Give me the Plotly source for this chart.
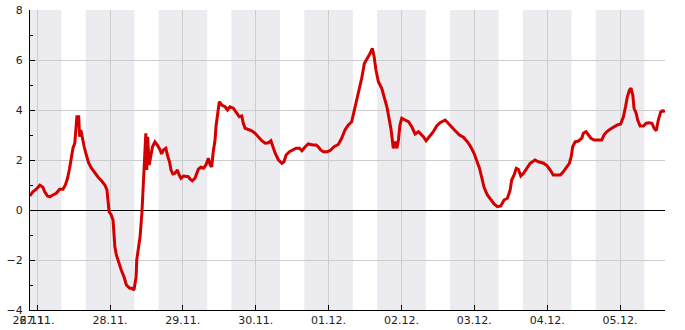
import plotly.graph_objects as go
import pandas as pd

# hours since 27.11. 00:00 and measured values
hours = [
    -2.4, -1.4, -0.3, 0.9, 1.9, 2.5, 3.4, 4.2, 5.2, 6.3,
    7.4, 8.5, 9.3, 10.0, 10.7, 11.3, 11.8, 12.4, 12.7, 13.1,
    13.7, 14.0, 14.4, 14.8, 15.5, 16.2, 17.0, 17.9, 19.0, 20.1,
    21.2, 22.3, 23.0, 23.4, 23.7, 24.4, 25.0, 25.3, 25.6, 26.1,
    26.9, 27.7, 28.6, 29.4, 30.5, 31.2, 31.9, 32.6, 32.8, 33.3,
    33.9, 34.5, 34.8, 35.0, 35.3, 35.8, 36.1, 36.4, 36.9, 37.4,
    38.0, 38.8, 39.6, 40.5, 41.0, 41.6, 42.4, 42.9, 43.6, 44.1,
    44.7, 45.4, 46.2, 46.8, 47.4, 48.2, 49.1, 49.8, 50.4, 51.1,
    52.0, 52.6, 53.1, 53.9, 54.8, 55.6, 56.4, 57.0, 57.5, 58.0,
    58.6, 58.9, 59.4, 60.0, 60.8, 61.9, 62.7, 63.5, 64.6, 65.8,
    66.6, 67.4, 67.9, 68.5, 69.6, 70.7, 71.8, 72.9, 74.0, 75.1,
    76.2, 77.0, 77.6, 78.4, 79.5, 80.6, 81.3, 82.0, 83.1, 84.2,
    85.3, 86.4, 87.2, 88.3, 89.3, 90.8, 91.9, 92.6, 93.4, 94.3,
    95.6, 96.7, 97.8, 99.2, 100.3, 101.4, 102.5, 103.6, 104.4, 105.3,
    106.1, 106.9, 107.8, 108.8, 109.7, 110.4, 111.0, 111.6, 112.4, 113.5,
    114.3, 115.2, 115.9, 116.6, 117.3, 117.9, 118.5, 119.0, 119.5, 120.1,
    121.2, 122.3, 123.4, 124.5, 125.6, 126.4, 127.2, 128.1, 129.1, 130.5,
    131.6, 132.7, 134.4, 135.5, 136.6, 137.7, 139.1, 140.4, 141.7, 142.8,
    143.9, 144.8, 145.7, 146.5, 147.2, 148.3, 149.4, 150.5, 151.6, 152.7,
    153.8, 154.9, 155.8, 156.3, 157.1, 157.8, 158.5, 159.3, 160.2, 161.3,
    162.4, 164.0, 165.1, 166.8, 167.9, 169.0, 170.0, 171.2, 172.3, 173.3,
    174.5, 175.3, 175.9, 176.4, 177.2, 178.3, 179.4, 179.9, 180.8, 181.6,
    182.4, 183.5, 184.9, 186.0, 186.7, 187.6, 188.7, 189.8, 191.1, 192.2,
    193.1, 193.8, 194.4, 195.1, 195.6, 196.2, 196.6, 197.3, 197.8, 198.6,
    199.7, 200.6, 201.5, 202.5, 203.2, 203.9, 204.6, 205.4, 206.1, 206.8,
]
values = [
    0.56, 0.73, 0.83, 0.99, 0.91, 0.73, 0.56, 0.53, 0.60, 0.67,
    0.83, 0.83, 1.00, 1.27, 1.67, 2.13, 2.47, 2.67, 3.07, 3.73,
    3.73, 2.93, 3.20, 2.93, 2.53, 2.20, 1.87, 1.67, 1.47, 1.31,
    1.17, 1.00, 0.80, 0.40, -0.07, -0.20, -0.40, -0.93, -1.47, -1.80,
    -2.13, -2.40, -2.67, -3.00, -3.13, -3.13, -3.20, -2.67, -2.00, -1.60,
    -1.07, -0.13, 0.53, 1.20, 1.87, 3.07, 1.60, 2.93, 1.80, 2.13,
    2.53, 2.73, 2.60, 2.40, 2.24, 2.40, 2.47, 2.20, 1.93, 1.60,
    1.44, 1.47, 1.60, 1.40, 1.27, 1.36, 1.33, 1.33, 1.23, 1.17,
    1.27, 1.44, 1.63, 1.71, 1.67, 1.80, 2.07, 1.80, 1.73, 2.33,
    2.80, 3.33, 3.87, 4.33, 4.20, 4.13, 4.00, 4.13, 4.07, 3.87,
    3.73, 3.76, 3.47, 3.27, 3.23, 3.17, 3.07, 2.91, 2.77, 2.67,
    2.69, 2.77, 2.53, 2.27, 2.00, 1.87, 1.93, 2.20, 2.33, 2.40,
    2.47, 2.47, 2.37, 2.53, 2.64, 2.60, 2.60, 2.53, 2.40, 2.33,
    2.33, 2.40, 2.53, 2.62, 2.87, 3.20, 3.40, 3.53, 3.93, 4.47,
    4.87, 5.27, 5.87, 6.07, 6.27, 6.47, 6.13, 5.60, 5.13, 4.87,
    4.53, 4.13, 3.67, 3.20, 2.47, 2.73, 2.47, 2.80, 3.40, 3.67,
    3.60, 3.53, 3.33, 3.04, 3.13, 3.04, 2.93, 2.77, 2.93, 3.13,
    3.36, 3.49, 3.60, 3.47, 3.33, 3.17, 3.00, 2.91, 2.73, 2.53,
    2.27, 2.00, 1.67, 1.27, 0.91, 0.60, 0.40, 0.24, 0.13, 0.16,
    0.40, 0.47, 0.80, 1.20, 1.40, 1.67, 1.63, 1.36, 1.47, 1.67,
    1.87, 2.00, 1.93, 1.87, 1.78, 1.60, 1.40, 1.40, 1.40, 1.53,
    1.71, 1.87, 2.13, 2.53, 2.73, 2.76, 2.87, 3.07, 3.13, 3.00,
    2.87, 2.80, 2.80, 2.80, 3.00, 3.13, 3.23, 3.31, 3.40, 3.44,
    3.73, 4.13, 4.53, 4.80, 4.87, 4.60, 4.07, 3.87, 3.60, 3.36,
    3.36, 3.47, 3.49, 3.47, 3.27, 3.17, 3.60, 3.93, 3.97, 3.93,
]
first_label = "26.11."
day_labels = ["27.11.", "28.11.", "29.11.", "30.11.", "01.12.",
              "02.12.", "03.12.", "04.12.", "05.12."]
y_ticks = [-4, -2, 0, 2, 4, 6, 8]

base = pd.Timestamp("2023-11-27 00:00")
times = base + pd.to_timedelta(hours, unit="h")
x_start = base + pd.Timedelta(hours=-2.35)
x_end = base + pd.Timedelta(hours=206.8)
day_ticks = pd.date_range("2023-11-27", periods=len(day_labels), freq="D")
tick_vals = [x_start] + list(day_ticks)
tick_text = [first_label] + day_labels

night_starts = pd.date_range("2023-11-26 16:00", "2023-12-05 16:00", freq="D")
shapes = []
for s in night_starts:
    shapes.append(dict(type="rect", xref="x", yref="paper",
                       x0=s, x1=s + pd.Timedelta(hours=16), y0=0, y1=1,
                       fillcolor="rgba(225,225,233,0.68)", line=dict(width=0),
                       layer="between"))

fig = go.Figure()
fig.add_trace(go.Scatter(x=times, y=values, mode="lines",
                         line=dict(color="#d40000", width=3),
                         hoverinfo="skip", showlegend=False))

font = dict(family="DejaVu Sans", size=11, color="#222")
fig.update_layout(
    width=685, height=330, autosize=False,
    margin=dict(l=30, r=20, t=10, b=20),
    paper_bgcolor="white", plot_bgcolor="white",
    shapes=shapes, font=font, showlegend=False,
)
fig.update_xaxes(
    type="date", range=[x_start, x_end],
    tickmode="array", tickvals=tick_vals, ticktext=tick_text,
    tickangle=0, automargin=False,
    ticks="inside", ticklen=5, tickcolor="#000", tickfont=font,
    showgrid=True, gridcolor="#cccccc", gridwidth=1,
    showline=True, linecolor="#000", linewidth=1, zeroline=False,
)
fig.update_yaxes(
    range=[-4, 8], tickmode="array", tickvals=y_ticks, automargin=False,
    ticks="inside", ticklen=5, tickcolor="#000", tickfont=font,
    minor=dict(dtick=1, tick0=0, ticks="inside", ticklen=3, tickcolor="#000", showgrid=False),
    showgrid=True, gridcolor="#cccccc", gridwidth=1,
    zeroline=True, zerolinecolor="#000", zerolinewidth=1,
    showline=True, linecolor="#000", linewidth=1,
    ticklabelstandoff=4,
)
fig.write_html("out.html")
